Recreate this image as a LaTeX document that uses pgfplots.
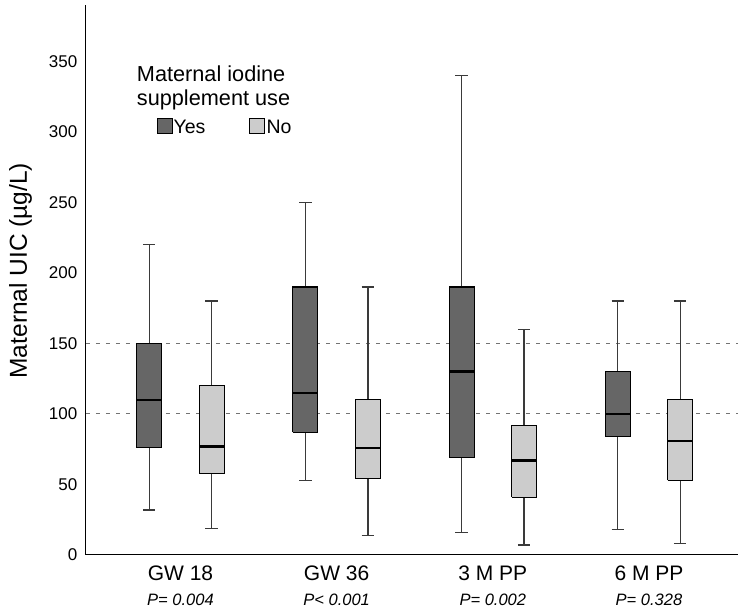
\documentclass[border=0pt]{standalone}
\usepackage{fontspec}
\setmainfont{Liberation Sans}
\usepackage{pgfplots}
\pgfplotsset{compat=1.18}
\definecolor{yescol}{HTML}{666666}
\definecolor{nocol}{HTML}{CCCCCC}
\definecolor{whisk}{HTML}{3A3A3A}

\begin{document}
\begin{tikzpicture}
\begin{axis}[
  scale only axis, width=652pt, height=550pt,
  xmin=0.395, xmax=4.57, ymin=0, ymax=390,
  axis x line=bottom, axis y line=left,
  axis line style={-, line width=1pt, black},
  tick style={draw=none},
  xtick={1,2,3,4},
  xticklabels={
    {GW 18\\{\fontsize{16.5}{20}\selectfont\itshape P= 0.004}},
    {GW 36\\{\fontsize{16.5}{20}\selectfont\itshape P< 0.001}},
    {3 M PP\\{\fontsize{16.5}{20}\selectfont\itshape P= 0.002}},
    {6 M PP\\{\fontsize{16.5}{20}\selectfont\itshape P= 0.328}}},
  xticklabel style={align=center, font=\fontsize{21}{25}\selectfont, yshift=-5pt},
  ytick={0,50,...,350},
  yticklabel style={font=\fontsize{17}{20}\selectfont, xshift=-3pt, /pgf/number format/assume math mode=true},
  ylabel={Maternal UIC (µg/L)},
  ylabel style={font=\fontsize{24.5}{28}\selectfont, at={(axis description cs:-0.0905,0.517)}, anchor=base},
  unbounded coords=jump,
]
% reference lines
\addplot[black!55, line width=1pt, dash pattern=on 4pt off 6pt] coordinates {(0.395,100)(4.57,100)};
\addplot[black!55, line width=1pt, dash pattern=on 4pt off 6pt] coordinates {(0.395,150)(4.57,150)};

% whiskers and caps (x, lower whisker -> upper whisker)
\addplot[whisk, line width=1.4pt] coordinates {
  (0.8,32)(0.8,220) (0,nan) (0.76,32)(0.84,32) (0,nan) (0.76,220)(0.84,220) (0,nan)
  (1.2,19)(1.2,180) (0,nan) (1.16,19)(1.24,19) (0,nan) (1.16,180)(1.24,180) (0,nan)
  (1.8,53)(1.8,250) (0,nan) (1.76,53)(1.84,53) (0,nan) (1.76,250)(1.84,250) (0,nan)
  (2.2,14)(2.2,190) (0,nan) (2.16,14)(2.24,14) (0,nan) (2.16,190)(2.24,190) (0,nan)
  (2.8,16)(2.8,340) (0,nan) (2.76,16)(2.84,16) (0,nan) (2.76,340)(2.84,340) (0,nan)
  (3.2,7)(3.2,160)  (0,nan) (3.16,7)(3.24,7)   (0,nan) (3.16,160)(3.24,160) (0,nan)
  (3.8,18)(3.8,180) (0,nan) (3.76,18)(3.84,18) (0,nan) (3.76,180)(3.84,180) (0,nan)
  (4.2,8)(4.2,180)  (0,nan) (4.16,8)(4.24,8)   (0,nan) (4.16,180)(4.24,180)
};

% boxes: supplement use = Yes (lower quartile to upper quartile)
\addplot[draw=black, fill=yescol, line width=1.1pt] coordinates {
  (0.72,76)(0.88,76)(0.88,150)(0.72,150)(0.72,76) (0,nan)
  (1.72,87)(1.88,87)(1.88,190)(1.72,190)(1.72,87) (0,nan)
  (2.72,69)(2.88,69)(2.88,190)(2.72,190)(2.72,69) (0,nan)
  (3.72,84)(3.88,84)(3.88,130)(3.72,130)(3.72,84)
};
% boxes: supplement use = No
\addplot[draw=black, fill=nocol, line width=1.1pt] coordinates {
  (1.12,58)(1.28,58)(1.28,120)(1.12,120)(1.12,58) (0,nan)
  (2.12,54)(2.28,54)(2.28,110)(2.12,110)(2.12,54) (0,nan)
  (3.12,41)(3.28,41)(3.28,92)(3.12,92)(3.12,41) (0,nan)
  (4.12,53)(4.28,53)(4.28,110)(4.12,110)(4.12,53)
};
% medians
\addplot[black, line width=2.4pt] coordinates {
  (0.72,110)(0.88,110) (0,nan) (1.12,77)(1.28,77) (0,nan)
  (1.72,115)(1.88,115) (0,nan) (2.12,76)(2.28,76) (0,nan)
  (2.72,130)(2.88,130) (0,nan) (3.12,67)(3.28,67) (0,nan)
  (3.72,100)(3.88,100) (0,nan) (4.12,81)(4.28,81)
};

% legend
\node[anchor=base west, font=\fontsize{21.7}{24}\selectfont, inner sep=0pt] at (axis cs:0.72,335.5) {Maternal iodine};
\node[anchor=base west, font=\fontsize{21.7}{24}\selectfont, inner sep=0pt] at (axis cs:0.72,319) {supplement use};
\node[draw=black, fill=yescol, minimum size=15pt, inner sep=0pt, line width=1pt] at (axis cs:0.898,304) {};
\node[anchor=base west, font=\fontsize{19.5}{22}\selectfont, inner sep=0pt] at (axis cs:0.955,298.6) {Yes};
\node[draw=black, fill=nocol, minimum size=15pt, inner sep=0pt, line width=1pt] at (axis cs:1.493,304) {};
\node[anchor=base west, font=\fontsize{19.5}{22}\selectfont, inner sep=0pt] at (axis cs:1.55,298.6) {No};
\end{axis}
\pgfresetboundingbox
\path[use as bounding box] ([shift={(-86pt,-57pt)}]current axis.south west) rectangle ([shift={(0pt,5pt)}]current axis.north east);
\end{tikzpicture}
\end{document}
